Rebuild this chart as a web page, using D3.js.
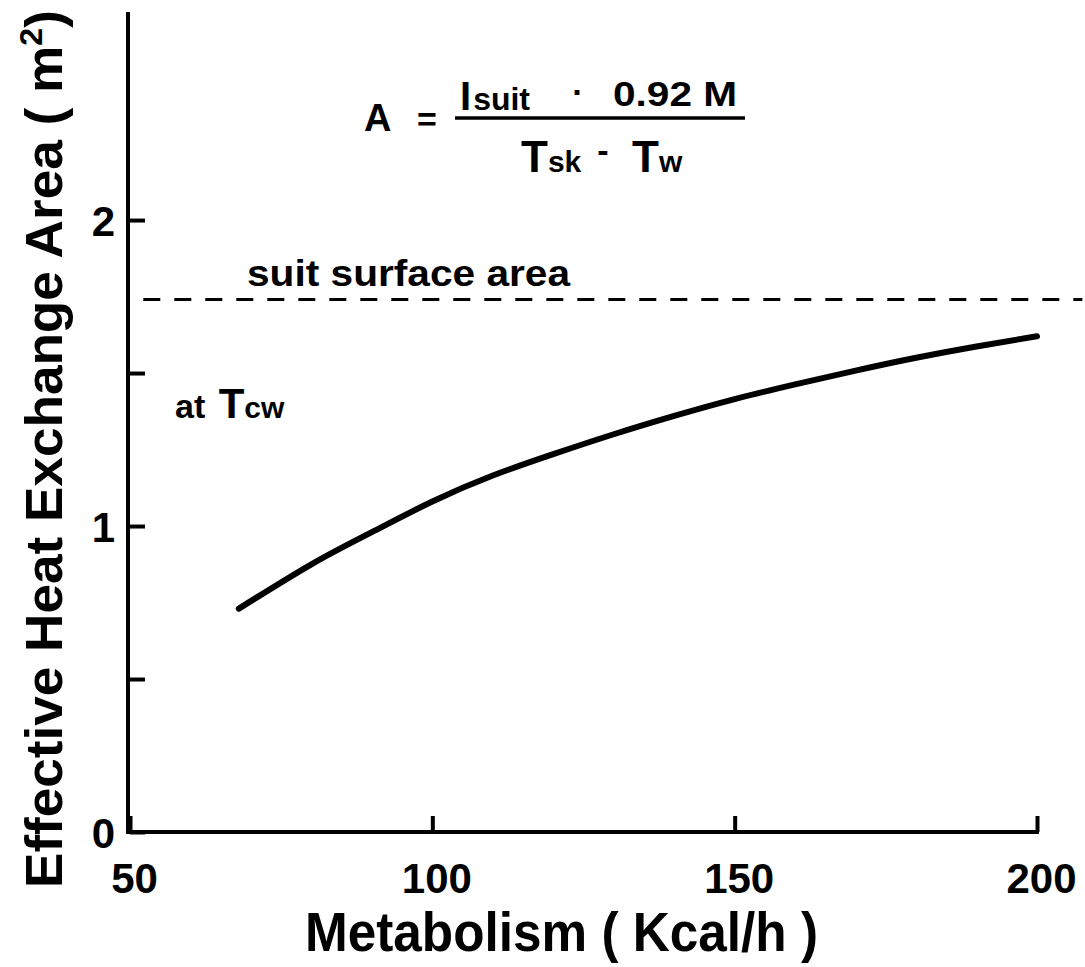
<!DOCTYPE html>
<html>
<head>
<meta charset="utf-8">
<script src="https://cdn.jsdelivr.net/npm/d3@7"></script>
<style>
  body { margin: 0; background: #fff; }
  svg text { font-family: "Liberation Sans", Arial, sans-serif; font-weight: bold; fill: #000; }
  .axis path, .axis line { stroke: #000; stroke-width: 4; }
</style>
</head>
<body>
<div class="chart"></div>
<script>
// Effective heat exchange area vs metabolism
var metabolism = [68, 80, 90, 100, 110, 120, 130, 140, 150, 160, 170, 180, 190, 200];
var area = [0.73, 0.875, 0.98, 1.08, 1.165, 1.235, 1.30, 1.36, 1.415, 1.463, 1.508, 1.55, 1.587, 1.62];
var suitSurface = 1.74;
var xTicks = [50, 100, 150, 200];
var yTicks = [0, 0.5, 1, 1.5, 2];

var svgWidth = 1085;
var svgHeight = 967;

var svg = d3.select(".chart")
  .append("svg")
  .attr("width", svgWidth)
  .attr("height", svgHeight);

// scales (pixel extents of the plot area)
var x = d3.scaleLinear().domain([50, 200]).range([130, 1037]);
var y = d3.scaleLinear().domain([0, 2.68]).range([832, 12]);

// x axis, ticks pointing inward
var xAxis = d3.axisBottom(x)
  .tickValues(xTicks)
  .tickSizeInner(-16)
  .tickSizeOuter(0)
  .tickPadding(31)
  .tickFormat(d3.format("d"));

svg.append("g")
  .attr("class", "x axis")
  .attr("transform", "translate(0," + y(0) + ")")
  .call(xAxis)
  .call(function(g) {
    g.select(".domain").attr("d", "M128,0H1039");
    g.selectAll("text").attr("font-size", 42).attr("dx", 4);
  });

// y axis, labels only on whole numbers
var yAxis = d3.axisLeft(y)
  .tickValues(yTicks)
  .tickSizeInner(-15)
  .tickSizeOuter(0)
  .tickPadding(15)
  .tickFormat(function(d) { return d % 1 === 0 ? d : ""; });

svg.append("g")
  .attr("class", "y axis")
  .attr("transform", "translate(" + x(50) + ",0)")
  .call(yAxis)
  .call(function(g) {
    g.select(".domain").attr("d", "M-2," + y(2.68) + "V" + (y(0) + 2));
    g.selectAll("text").attr("font-size", 42).attr("dy", "0.36em");
  });

// suit surface area dashed line
svg.append("line")
  .attr("x1", x(52.2))
  .attr("x2", x(207.5))
  .attr("y1", y(suitSurface))
  .attr("y2", y(suitSurface))
  .attr("stroke", "#000")
  .attr("stroke-width", 3)
  .attr("stroke-dasharray", "17,14");

// curve
var line = d3.line()
  .x(function(d, i) { return x(metabolism[i]); })
  .y(function(d) { return y(d); })
  .curve(d3.curveNatural);

svg.append("path")
  .datum(area)
  .attr("d", line)
  .attr("fill", "none")
  .attr("stroke", "#000")
  .attr("stroke-width", 6)
  .attr("stroke-linecap", "round");

// annotations
svg.append("text")
  .attr("x", 247).attr("y", 286)
  .attr("font-size", 36)
  .attr("textLength", 323).attr("lengthAdjust", "spacingAndGlyphs")
  .text("suit surface area");

var atT = svg.append("text").attr("x", 175).attr("y", 418).attr("font-size", 34);
atT.append("tspan").text("at ");
atT.append("tspan").attr("dx", 4).attr("font-size", 42).text("T");
atT.append("tspan").attr("font-size", 30).text("cw");

// formula
svg.append("text").attr("x", 364).attr("y", 131).attr("font-size", 38).text("A");
svg.append("text").attr("x", 417).attr("y", 131).attr("font-size", 34).text("=");
svg.append("line")
  .attr("x1", 455).attr("x2", 745)
  .attr("y1", 118).attr("y2", 118)
  .attr("stroke", "#000").attr("stroke-width", 3.5);

var num = svg.append("text").attr("x", 460).attr("y", 110).attr("font-size", 40);
num.append("tspan").text("I");
num.append("tspan").attr("font-size", 32).attr("dx", 2).text("suit");
svg.append("text").attr("x", 578).attr("y", 104).attr("font-size", 34).attr("text-anchor", "middle").text("·");
svg.append("text").attr("x", 613).attr("y", 106).attr("font-size", 35)
  .attr("textLength", 124).attr("lengthAdjust", "spacingAndGlyphs")
  .text("0.92 M");

var den1 = svg.append("text").attr("x", 521).attr("y", 172).attr("font-size", 44);
den1.append("tspan").text("T");
den1.append("tspan").attr("font-size", 30).text("sk");
svg.append("text").attr("x", 603).attr("y", 162).attr("font-size", 34).attr("text-anchor", "middle").text("-");
var den2 = svg.append("text").attr("x", 632).attr("y", 172).attr("font-size", 44);
den2.append("tspan").text("T");
den2.append("tspan").attr("font-size", 30).text("w");

// axis labels
svg.append("text")
  .attr("x", 305).attr("y", 951)
  .attr("font-size", 56)
  .attr("textLength", 513).attr("lengthAdjust", "spacingAndGlyphs")
  .text("Metabolism ( Kcal/h )");

var yl = svg.append("text")
  .attr("transform", "translate(62,888) rotate(-90)")
  .attr("font-size", 52)
  .attr("textLength", 878).attr("lengthAdjust", "spacingAndGlyphs");
yl.append("tspan").text("Effective Heat Exchange Area ( m");
yl.append("tspan").attr("font-size", 32).attr("dy", -20).text("2");
yl.append("tspan").attr("dy", 20).text(")");
</script>
</body>
</html>
